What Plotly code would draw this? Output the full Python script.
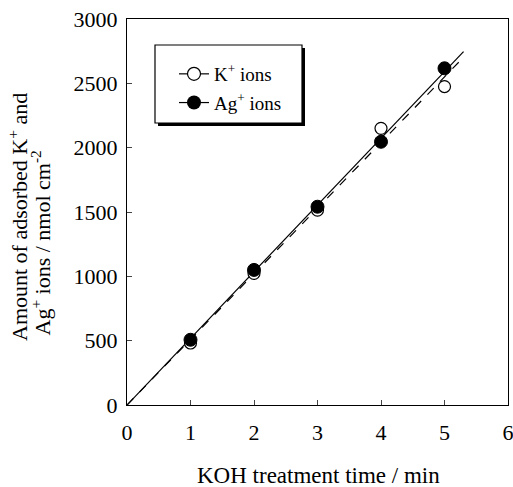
import plotly.graph_objects as go

# Data
time_min = [1, 2, 3, 4, 5]
k_ions = [482, 1023, 1515, 2150, 2475]
ag_ions = [507, 1050, 1541, 2046, 2617]
x_ticks = [0, 1, 2, 3, 4, 5, 6]
y_ticks = [0, 500, 1000, 1500, 2000, 2500, 3000]
k_fit_end = 5.25
ag_fit_end = 5.3

def slope_origin(xs, ys):
    return sum(a * b for a, b in zip(xs, ys)) / sum(a * a for a in xs)

k_slope = slope_origin(time_min, k_ions)
ag_slope = slope_origin(time_min, ag_ions)

FONT = "Liberation Serif"

fig = go.Figure()

# fit lines
fig.add_trace(go.Scatter(x=[0, k_fit_end], y=[0, k_slope * k_fit_end], mode="lines",
                         line=dict(color="black", width=1.2, dash="dash"), showlegend=False))
fig.add_trace(go.Scatter(x=[0, ag_fit_end], y=[0, ag_slope * ag_fit_end], mode="lines",
                         line=dict(color="black", width=1.2), showlegend=False))
# data points
fig.add_trace(go.Scatter(x=time_min, y=k_ions, mode="markers",
                         marker=dict(symbol="circle", size=12, color="white",
                                     line=dict(color="black", width=1.2)), showlegend=False))
fig.add_trace(go.Scatter(x=time_min, y=ag_ions, mode="markers",
                         marker=dict(symbol="circle", size=13, color="black",
                                     line=dict(color="black", width=1)), showlegend=False))
# legend entries
fig.add_trace(go.Scatter(x=[None], y=[None], mode="lines+markers", name="K<sup>+</sup> ions",
                         legendgroup="k",
                         line=dict(color="black", width=1.2),
                         marker=dict(symbol="circle", size=13, color="white",
                                     line=dict(color="black", width=1.2))))
fig.add_trace(go.Scatter(x=[None], y=[None], mode="lines+markers", name="Ag<sup>+</sup> ions",
                         legendgroup="ag",
                         line=dict(color="black", width=1.2),
                         marker=dict(symbol="circle", size=14, color="black")))

# plot area in pixels (for paper-coordinate placement)
PL, PR, PT, PB = 127, 508, 19, 405
W, H = 513, 487
def px(x):
    return (x - PL) / (PR - PL)
def py(y):
    return (PB - y) / (PB - PT)

# legend box with shadow
fig.add_shape(type="rect", xref="paper", yref="paper", x0=px(155), x1=px(302), y0=py(123), y1=py(45),
              line=dict(color="black", width=1.2), fillcolor="white", layer="below")
fig.add_shape(type="line", xref="paper", yref="paper", x0=px(303.5), x1=px(303.5),
              y0=py(125), y1=py(48), line=dict(color="black", width=3))
fig.add_shape(type="line", xref="paper", yref="paper", x0=px(158), x1=px(305),
              y0=py(124.5), y1=py(124.5), line=dict(color="black", width=3))

# axis titles as annotations
fig.add_annotation(text="Amount of adsorbed K<sup>+</sup> and", xref="paper", yref="paper",
                   x=px(18), y=py(343), xanchor="center", yanchor="bottom", textangle=-90,
                   showarrow=False, font=dict(family=FONT, size=22))
fig.add_annotation(text="Ag<sup>+</sup> ions / nmol cm<sup>-2</sup>", xref="paper", yref="paper",
                   x=px(40), y=py(338), xanchor="center", yanchor="bottom", textangle=-90,
                   showarrow=False, font=dict(family=FONT, size=22))
fig.add_annotation(text="KOH treatment time / min", xref="paper", yref="paper",
                   x=px(318), y=py(475), xanchor="center", yanchor="middle",
                   showarrow=False, font=dict(family=FONT, size=23))

fig.update_layout(
    width=W, height=H,
    margin=dict(l=PL, r=W - PR, t=PT, b=H - PB, autoexpand=False),
    paper_bgcolor="white", plot_bgcolor="white",
    font=dict(family=FONT, size=18, color="black"),
    legend=dict(x=px(174), y=py(55), xanchor="left", yanchor="top",
                bgcolor="rgba(0,0,0,0)", borderwidth=0,
                font=dict(family=FONT, size=19), tracegroupgap=1, itemwidth=30),
    xaxis=dict(range=[0, 6], tickvals=x_ticks, ticks="inside", ticklen=5,
               showline=True, linecolor="black", linewidth=1, mirror=True,
               showgrid=False, zeroline=False, automargin=False,
               ticklabelstandoff=8, ticklabeloverflow="allow",
               tickfont=dict(family=FONT, size=22)),
    yaxis=dict(range=[0, 3000], tickvals=y_ticks, ticks="inside", ticklen=5,
               showline=True, linecolor="black", linewidth=1, mirror=True,
               showgrid=False, zeroline=False, automargin=False,
               ticklabelstandoff=4, ticklabeloverflow="allow",
               tickfont=dict(family=FONT, size=22)),
)

fig.write_html("out.html", post_script="document.body.style.margin='0';",
               config={"displayModeBar": False})
